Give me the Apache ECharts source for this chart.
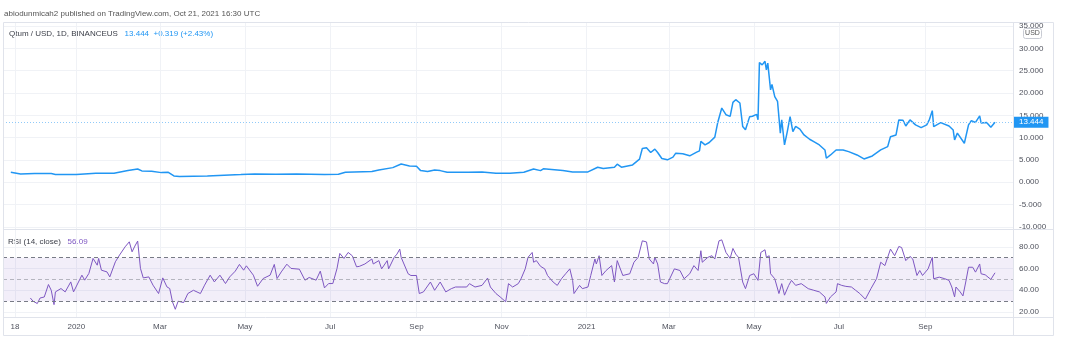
<!DOCTYPE html>
<html>
<head>
<meta charset="utf-8">
<script src="https://cdn.jsdelivr.net/npm/echarts@6/dist/echarts.min.js"></script>
<style>
  html, body { margin: 0; padding: 0; background: #fff; }
  #chart { width: 1070px; height: 344px; }
</style>
</head>
<body>
<div id="chart"></div>
<script>
// Daily close, Qtum / USD (BINANCEUS). Days are counted from 1 Jan 2020.
const priceDay = [-47,-40,-30,-18,-15,0,14,27,37,44,47,54,61,66,70,74,94,118,128,143,158,178,188,193,212,217,227,233,236,239,244,247,252,257,261,266,281,291,301,311,321,328,333,335,349,356,367,374,378,386,388,391,399,404,406,409,412,415,417,420,424,428,430,435,440,445,447,448,451,454,458,460,463,464,466,469,471,473,476,478,480,483,485,488,489,490,492,494,495,496,498,499,501,503,505,506,508,510,512,514,516,519,522,526,529,533,537,538,541,545,550,554,560,565,571,577,582,584,588,590,593,595,598,602,606,610,612,614,615,620,626,629,630,632,637,640,642,645,648,649,653,656,659];
const priceClose = [2.24,1.87,1.94,1.94,1.72,1.72,2.01,2.01,2.61,2.98,2.54,2.46,2.16,2.24,1.42,1.27,1.42,1.72,1.87,1.79,1.87,1.72,1.79,2.24,2.39,2.76,3.28,4.10,3.88,3.66,3.58,2.61,2.39,2.76,2.61,2.24,2.24,2.31,2.01,2.01,2.24,2.98,2.61,3.0,2.62,2.32,2.32,3.37,3.07,3.37,4.04,3.37,3.89,5.17,7.56,7.71,6.67,7.42,6.67,5.32,5.02,5.62,6.52,6.37,5.92,6.74,7.04,9.14,8.39,8.91,10.11,13.26,16.63,16.25,15.13,14.76,17.9,18.5,17.75,12.5,11.76,14.7,14.8,15.2,14.0,26.8,26.3,27.1,25.2,26.7,20.7,21.9,19.2,18.1,11.0,14.0,8.39,11.35,14.7,11.35,12.5,11.9,10.6,9.64,9.1,8.36,7.24,5.38,6.12,7.24,7.24,6.86,6.12,5.22,5.9,7.24,7.98,10.2,10.6,13.97,13.9,12.6,13.97,12.85,12.25,12.85,14.1,16.05,12.47,13.36,12.6,11.7,9.5,11.0,8.74,12.85,13.8,13.4,14.86,13.3,13.4,12.33,13.444];

// RSI (14, close), same day numbering
const rsiDay = [-33,-31,-28,-26,-23,-20,-18,-16,-15,-11,-8,-4,-2,4,6,9,12,15,16,18,22,24,28,31,35,38,40,42,44,46,48,52,55,59,62,65,67,69,71,73,77,80,84,89,92,96,99,103,107,110,114,117,120,122,127,130,134,139,142,144,147,151,154,160,164,167,172,175,178,181,184,187,189,192,195,198,201,203,207,212,213,217,219,223,224,228,230,232,233,234,238,240,244,246,249,254,257,261,265,269,272,276,280,282,286,291,295,297,301,304,308,310,313,317,319,322,324,327,328,330,333,334,336,338,342,345,348,351,354,356,357,361,363,367,369,372,373,375,377,380,384,386,388,392,397,400,403,406,409,411,414,415,417,419,422,424,429,433,436,440,443,446,448,449,453,456,458,461,463,466,469,471,473,475,478,480,483,486,489,491,494,495,497,498,501,504,506,508,511,513,516,520,525,529,533,537,538,541,545,546,549,552,556,559,562,566,570,574,577,580,582,584,587,588,590,592,595,598,600,603,605,607,611,614,615,619,623,626,628,630,631,634,636,638,640,643,645,648,649,652,656,659];
const rsiValue = [32.9,29.9,27.8,32.9,33.8,45.3,40.0,26.8,38.5,41.6,38.5,47.7,38.5,53.9,49.3,55.5,69.3,63.1,69.3,58.5,56.9,52.3,66.2,72.4,80.0,84.6,75.4,80.7,85.3,60.1,51.4,52.3,44.7,37.0,51.4,43.1,41.6,29.2,22.5,29.9,28.7,37.0,40.0,37.0,44.7,53.9,47.7,53.9,46.2,52.3,57.6,63.8,58.5,62.5,53.9,43.7,50.8,53.9,63.8,50.8,56.9,64.0,60.1,59.4,49.3,51.8,49.3,57.6,42.2,46.2,46.2,60.1,73.9,69.3,74.8,71.7,61.6,62.0,64.2,68.8,64.2,67.3,59.7,67.3,59.7,70.3,73.3,77.9,70.3,71.2,55.2,53.6,53.6,37.0,38.5,47.6,40.0,47.6,38.5,41.5,43.0,43.0,43.0,46.1,43.0,44.5,51.2,43.0,37.0,33.9,29.4,46.1,43.0,46.1,50.6,59.7,70.3,74.8,65.8,67.3,62.0,63.3,59.7,53.6,47.6,44.5,50.6,55.2,59.7,49.1,37.0,44.5,41.5,43.0,53.6,68.8,64.2,71.8,53.6,58.2,62.7,47.6,67.3,53.6,55.2,65.8,70.3,85.5,84.5,68.8,64.2,70.3,64.2,47.6,46.1,46.1,59.7,58.2,50.6,55.2,62.7,58.2,76.4,65.8,70.3,71.8,68.8,85.5,86.4,74.8,69.4,78.5,73.3,70.3,47.6,41.5,53.6,55.2,49.1,74.8,77.3,70.3,71.8,55.2,50.6,37.0,46.1,35.5,44.5,49.1,44.5,46.1,41.5,40.0,38.5,33.9,27.9,33.9,38.5,46.1,44.5,43.6,43.0,40.0,37.0,31.8,41.5,50.6,65.8,62.7,70.3,77.9,71.8,73.3,80.3,79.4,67.3,71.2,68.8,53.6,58.2,53.6,59.7,70.3,50.6,52.1,50.6,49.1,43.0,33.9,43.0,38.5,34.8,47.6,61.2,61.2,56.7,64.2,55.2,54.2,50.0,56.09];

// Time scale marks
const timeTickDates = ['2019-11-18','2020-01-01','2020-03-01','2020-05-01','2020-07-01','2020-09-01','2020-11-01','2021-01-01','2021-03-01','2021-05-01','2021-07-01','2021-09-01'];
const timeTickLabels = ['18','2020','Mar','May','Jul','Sep','Nov','2021','Mar','May','Jul','Sep'];

// Price scale and RSI scale marks
const priceTicks = [35, 30, 25, 20, 15, 10, 5, 0, -5, -10];
const rsiTicks = [80, 60, 40, 20];
const rsiBands = { upper: 70, middle: 50, lower: 30 };

// Header figures
const lastClose = 13.444;
const lastChange = 0.319;
const lastChangePct = 2.43;
const lastRsi = 56.09;

const FONT = '"Liberation Sans", Arial, sans-serif';
const GRID_LINE = '#F0F2F6';
const BORDER = '#E0E3EB';
const AXIS_TEXT = '#50535E';

const EPOCH = Date.UTC(2020, 0, 1);
const dayOf = s => (Date.parse(s + 'T00:00:00Z') - EPOCH) / 864e5;
const tickDays = timeTickDates.map(dayOf);
const X_MIN = -52.6, X_MAX = 671.9;

const priceData = priceDay.map((d, i) => [d, priceClose[i]]);
const rsiData = rsiDay.map((d, i) => [d, rsiValue[i]]);

const xBase = (gridIndex, showLabels) => ({
  type: 'value', gridIndex, min: X_MIN, max: X_MAX,
  axisLine: { show: false },
  axisTick: { show: false, customValues: tickDays },
  axisLabel: {
    show: showLabels, customValues: tickDays, margin: 6,
    fontSize: 8, color: AXIS_TEXT, fontFamily: FONT,
    formatter: v => timeTickLabels[tickDays.indexOf(v)] || ''
  },
  splitLine: { show: true, lineStyle: { color: GRID_LINE, width: 1 } }
});

const chart = echarts.init(document.getElementById('chart'), null, { renderer: 'canvas' });

chart.setOption({
  animation: false,
  backgroundColor: '#ffffff',
  grid: [
    { left: 3, right: 57, top: 22, height: 207 },
    { left: 3, right: 57, top: 229, height: 88 }
  ],
  xAxis: [xBase(0, false), xBase(1, true)],
  yAxis: [
    {
      type: 'value', gridIndex: 0, position: 'right', min: -10.47, max: 35.9,
      axisLine: { show: false },
      axisTick: { show: false, customValues: priceTicks },
      axisLabel: {
        customValues: priceTicks, margin: 6, fontSize: 8, color: AXIS_TEXT, fontFamily: FONT,
        formatter: v => v.toFixed(3)
      },
      splitLine: { show: true, lineStyle: { color: GRID_LINE } }
    },
    {
      type: 'value', gridIndex: 1, position: 'right', min: 15.4, max: 96.4,
      axisLine: { show: false },
      axisTick: { show: false, customValues: rsiTicks },
      axisLabel: {
        customValues: rsiTicks, margin: 6, fontSize: 8, color: AXIS_TEXT, fontFamily: FONT,
        formatter: v => v.toFixed(2)
      },
      splitLine: { show: true, lineStyle: { color: GRID_LINE } }
    }
  ],
  series: [
    {
      name: 'Qtum / USD', type: 'line', xAxisIndex: 0, yAxisIndex: 0,
      data: priceData, showSymbol: false, symbol: 'none',
      lineStyle: { color: '#2196F3', width: 1.5 },
      markLine: {
        silent: true, symbol: ['none', 'none'],
        lineStyle: { color: '#90CAF9', type: [1, 2], width: 1 },
        label: {
          show: true, position: 'end', distance: 1,
          formatter: lastClose.toFixed(3),
          backgroundColor: '#2196F3', color: '#ffffff',
          fontSize: 8, fontFamily: FONT, padding: [2, 5, 1, 5]
        },
        data: [{ yAxis: lastClose }]
      }
    },
    {
      name: 'RSI', type: 'line', xAxisIndex: 1, yAxisIndex: 1,
      data: rsiData, showSymbol: false, symbol: 'none',
      lineStyle: { color: '#7E57C2', width: 1 },
      markArea: {
        silent: true,
        itemStyle: { color: 'rgba(126,87,194,0.1)' },
        data: [[{ yAxis: rsiBands.lower }, { yAxis: rsiBands.upper }]]
      },
      markLine: {
        silent: true, symbol: ['none', 'none'], label: { show: false },
        data: [
          { yAxis: rsiBands.upper, lineStyle: { color: '#787B86', type: [4, 3], width: 1 } },
          { yAxis: rsiBands.middle, lineStyle: { color: 'rgba(120,123,134,0.5)', type: [4, 3], width: 1 } },
          { yAxis: rsiBands.lower, lineStyle: { color: '#787B86', type: [4, 3], width: 1 } }
        ]
      }
    }
  ],
  graphic: [
    // outer frame and pane separators
    { type: 'rect', silent: true, z: 50, shape: { x: 3.5, y: 22.5, width: 1050, height: 313 },
      style: { fill: 'none', stroke: BORDER, lineWidth: 1 } },
    { type: 'line', silent: true, z: 50, shape: { x1: 3, y1: 229.5, x2: 1053, y2: 229.5 }, style: { stroke: BORDER, lineWidth: 1 } },
    { type: 'line', silent: true, z: 50, shape: { x1: 3, y1: 317.5, x2: 1053, y2: 317.5 }, style: { stroke: BORDER, lineWidth: 1 } },
    { type: 'line', silent: true, z: 50, shape: { x1: 1013.5, y1: 22, x2: 1013.5, y2: 336 }, style: { stroke: BORDER, lineWidth: 1 } },
    // publication line
    { type: 'text', silent: true, left: 4, top: 10,
      style: { text: 'abiodunmicah2 published on TradingView.com, Oct 21, 2021 16:30 UTC',
               fill: '#555555', font: '8px ' + FONT } },
    // symbol legend
    { type: 'text', silent: true, left: 9, top: 28,
      style: {
        text: '{a|Qtum / USD, 1D, BINANCEUS}  {b|' + lastClose.toFixed(3) + '  +' + lastChange.toFixed(3) + ' (+' + lastChangePct.toFixed(2) + '%)}',
        rich: {
          a: { fill: '#3b3e48', font: '8px ' + FONT },
          b: { fill: '#2196F3', font: '8px ' + FONT }
        }
      } },
    // RSI legend
    { type: 'text', silent: true, left: 8, top: 236,
      style: {
        text: '{a|RSI (14, close)}  {b|' + lastRsi.toFixed(2) + '}',
        rich: {
          a: { fill: '#3b3e48', font: '8px ' + FONT },
          b: { fill: '#7E57C2', font: '8px ' + FONT }
        }
      } },
    // currency badge
    { type: 'group', left: 1023, top: 28, z: 60, children: [
      { type: 'rect', shape: { x: 0, y: 0, width: 18, height: 10, r: 2 },
        style: { fill: '#ffffff', stroke: '#C8CBD3', lineWidth: 1 } },
      { type: 'text', style: { x: 9, y: 5, text: 'USD', fill: '#555555', font: '7px ' + FONT,
        align: 'center', verticalAlign: 'middle' } }
    ] }
  ]
});
</script>
</body>
</html>
